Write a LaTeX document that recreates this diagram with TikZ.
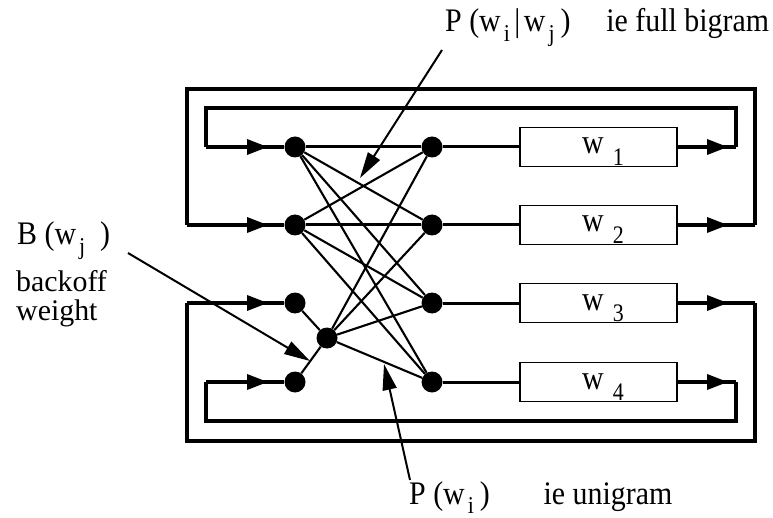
\documentclass[tikz,border=0pt]{standalone}
\usepackage{fontspec}
\setmainfont{Liberation Serif}
\usetikzlibrary{arrows.meta}
\newcommand{\lsub}[1]{\kern0.1em\raisebox{-0.3em}{\fontsize{22}{22}\selectfont #1}}
\newcommand{\wsub}[1]{\kern0.3em\raisebox{-0.33em}{\fontsize{22}{22}\selectfont #1}}
\newcommand{\vst}[1]{\scalebox{1}[1.1]{#1}}
\newcommand{\vsw}[1]{\scalebox{1}[1.15]{#1}}
\begin{document}
\begin{tikzpicture}[x=1bp,y=-1bp,
  loopline/.style={line width=3.4bp},
  rowline/.style={line width=3bp},
  edgeline/.style={line width=2.1bp},
  dot/.style={circle,fill=black,inner sep=0pt,minimum size=21bp},
  wbox/.style={draw,line width=1.8bp,minimum width=157bp,minimum height=39bp,inner sep=0pt},
  inarrow/.style={-{Triangle[length=21bp,width=15bp]},line width=3.4bp},
  notearrow/.style={-{Triangle[length=26bp,width=14bp]},line width=2bp},
  lbl/.style={font=\fontsize{30}{32}\selectfont,inner sep=0pt,anchor=base west},
  wlbl/.style={font=\fontsize{30}{32}\selectfont,inner sep=0pt,anchor=base west}]
\useasboundingbox (0,0) rectangle (773,518);

% dots
\node[dot] (L1) at (295,147) {};
\node[dot] (L2) at (295,225) {};
\node[dot] (L3) at (295,303) {};
\node[dot] (L4) at (295,382) {};
\node[dot] (B) at (327,338) {};
\node[dot] (R1) at (432,147) {};
\node[dot] (R2) at (432,225) {};
\node[dot] (R3) at (432,303) {};
\node[dot] (R4) at (432,382) {};

% word boxes
\node[wbox] (W1) at (598.5,147) {};
\node[wbox] (W2) at (598.5,225) {};
\node[wbox] (W3) at (598.5,303) {};
\node[wbox] (W4) at (598.5,382) {};
\node[wlbl] (t1) at (582,154) {\vsw{w\wsub{1}}};
\node[wlbl] (t2) at (582,232) {\vsw{w\wsub{2}}};
\node[wlbl] (t3) at (582,310) {\vsw{w\wsub{3}}};
\node[wlbl] (t4) at (582,389) {\vsw{w\wsub{4}}};

% loop coordinates
\coordinate (i1) at (206,147); \coordinate (o1) at (736,147);
\coordinate (i2) at (187,225); \coordinate (o2) at (755,225);
\coordinate (i3) at (187,303); \coordinate (o3) at (755,303);
\coordinate (i4) at (206,382); \coordinate (o4) at (736,382);
\coordinate (a1) at (268,147); \coordinate (b1) at (728,147);
\coordinate (a2) at (268,225); \coordinate (b2) at (728,225);
\coordinate (a3) at (268,303); \coordinate (b3) at (728,303);
\coordinate (a4) at (268,382); \coordinate (b4) at (728,382);

% loops
\draw[loopline] (i1) -- (206,108) -- (736,108) -- (o1);
\draw[loopline] (i2) -- (187,89) -- (755,89) -- (o2);
\draw[loopline] (i3) -- (187,441) -- (755,441) -- (o3);
\draw[loopline] (i4) -- (206,421) -- (736,421) -- (o4);

% row lines
\foreach \k in {1,2,3,4}{
  \draw[loopline] (i\k) -- (L\k);
  \draw[inarrow] (i\k) -- (a\k);
  \draw[loopline] (W\k.east) -- (o\k);
  \draw[inarrow] (W\k.east) -- (b\k);
  \draw[rowline] (R\k) -- (W\k.west);
}
\draw[rowline] (L1) -- (R1);
\draw[rowline] (L2) -- (R2);

% cross connections
\draw[edgeline] (L1) -- (R2);
\draw[edgeline] (L1) -- (R3);
\draw[edgeline] (L1) -- (R4);
\draw[edgeline] (L2) -- (R1);
\draw[edgeline] (L2) -- (R3);
\draw[edgeline] (L2) -- (R4);
\draw[edgeline] (B) -- (R1);
\draw[edgeline] (B) -- (R2);
\draw[edgeline] (B) -- (R3);
\draw[edgeline] (B) -- (R4);
\draw[edgeline] (L3) -- (B) -- (L4);

% annotations
\node[lbl] (lbig) at (445,32) {\vst{P (w\lsub{i}\kern0.15em|\kern0.12em w\lsub{j}\kern0.2em)\hspace{1.2em}ie full bigram}};
\node[lbl] (lbo) at (17,245) {\vst{B (w\lsub{j}\hspace{0.5em})}};
\node[lbl,text depth=0pt] (lbo2) at (16,292) {backoff};
\node[lbl,text height=20bp] (lbo3) at (16,320) {weight};
\node[lbl] (luni) at (409,504) {\vst{P (w\lsub{i}\kern0.2em)\hspace{1.8em}ie unigram}};

\coordinate (n1s) at (442,50); \coordinate (n1e) at (360,178);
\coordinate (n2s) at (128,253); \coordinate (n2e) at (310,361);
\coordinate (n3s) at (410,480); \coordinate (n3e) at (384,364);
\draw[notearrow] (n1s) -- (n1e);
\draw[notearrow] (n2s) -- (n2e);
\draw[notearrow] (n3s) -- (n3e);
\end{tikzpicture}
\end{document}
